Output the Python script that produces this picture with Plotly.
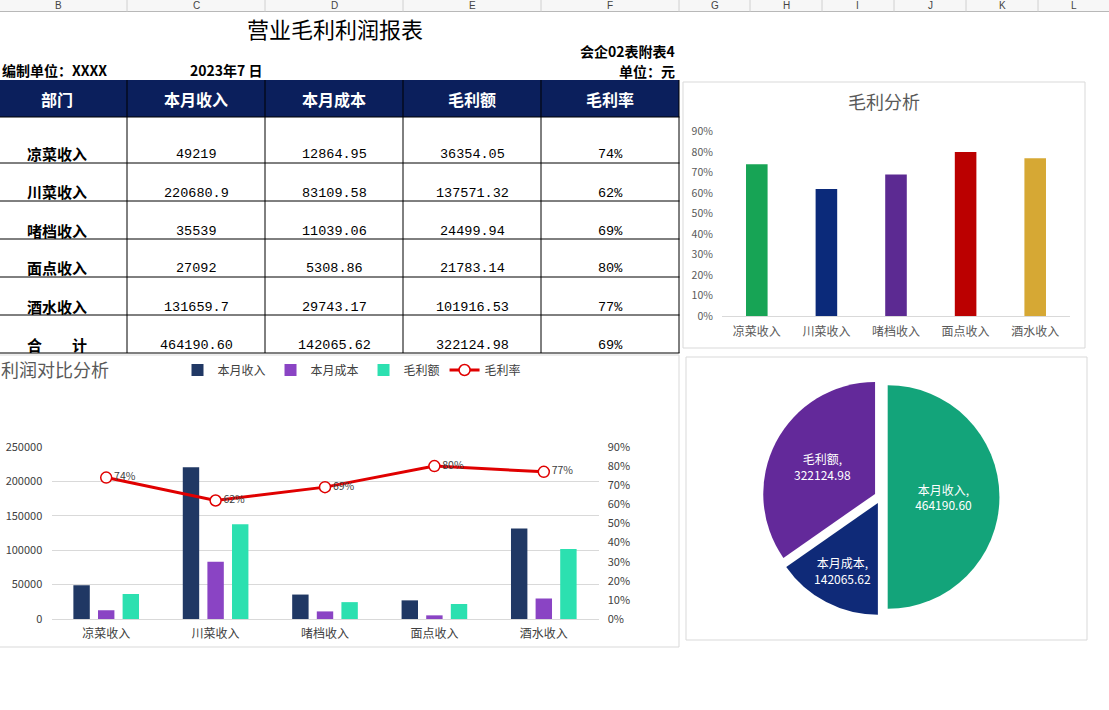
import plotly.graph_objects as go

W, H = 1109, 710

# ---------------- data ----------------
categories = ["凉菜收入", "川菜收入", "啫档收入", "面点收入", "酒水收入"]
revenue = [49219, 220680.9, 35539, 27092, 131659.7]
cost = [12864.95, 83109.58, 11039.06, 5308.86, 29743.17]
gross = [36354.05, 137571.32, 24499.94, 21783.14, 101916.53]
margin_rate = [0.74, 0.62, 0.69, 0.80, 0.77]
total_label = "合\u3000\u3000计"
totals = [464190.60, 142065.62, 322124.98]
total_rate = 0.69
header = ["部门", "本月收入", "本月成本", "毛利额", "毛利率"]
series_names = ["本月收入", "本月成本", "毛利额", "毛利率"]
pie_labels = ["本月收入", "本月成本", "毛利额"]
pie_values = [464190.60, 142065.62, 322124.98]
sheet_cols = ["B", "C", "D", "E", "F", "G", "H", "I", "J", "K", "L"]

# ---------------- helpers ----------------
def px(x):
    return x / W


def py(y):
    return 1 - y / H


CJK = "Noto Sans CJK SC"
NUM = "Liberation Mono"
GRAY = "#595959"

fig = go.Figure()

# ---------------- top-right bar chart: 毛利分析 ----------------
bar_colors = ["#17a455", "#0b2a7a", "#5c2a92", "#bb0000", "#d6a834"]
fig.add_trace(go.Bar(
    x=categories, y=margin_rate, xaxis="x", yaxis="y",
    marker=dict(color=bar_colors, line=dict(width=0)),
    width=0.31, showlegend=False, hoverinfo="x+y",
))

# ---------------- combo chart: 利润对比分析 ----------------
combo_colors = ["#203864", "#8a44c4", "#2ce0b0"]
bw = 0.15
centers = [-0.225, 0.0, 0.225]
for name, vals, col, c in zip(series_names[:3], [revenue, cost, gross], combo_colors, centers):
    fig.add_trace(go.Bar(
        x=categories, y=vals, name=name, xaxis="x2", yaxis="y2",
        marker=dict(color=col, line=dict(width=0)),
        width=bw, offset=c - bw / 2, legend="legend",
    ))

fig.add_trace(go.Scatter(
    x=categories, y=margin_rate, name=series_names[3], xaxis="x2", yaxis="y3",
    mode="lines+markers+text",
    line=dict(color="#e00000", width=3),
    marker=dict(symbol="circle", size=11, color="white", line=dict(color="#e00000", width=1.5)),
    text=[f"{r:.0%}" for r in margin_rate], textposition="middle right",
    textfont=dict(size=10.5, color="#404040", family=CJK),
    legend="legend",
))

# ---------------- pie ----------------
pie_colors = ["#13a47a", "#0f2a78", "#63299a"]
fig.add_trace(go.Pie(
    labels=pie_labels, values=pie_values,
    domain=dict(x=[px(762.5), px(999.5)], y=[py(615.5), py(378.5)]),
    sort=False, direction="clockwise", rotation=0,
    pull=[0.06, 0.06, 0.06],
    marker=dict(colors=pie_colors, line=dict(width=0)),
    texttemplate="%{label},<br>%{value:.2f}",
    textposition="inside", insidetextorientation="horizontal",
    textfont=dict(color="white", size=12, family=CJK),
    showlegend=False,
))

shapes = []
annotations = []

# ---------------- spreadsheet column header strip ----------------
col_bounds = [-11, 127, 265, 403, 541, 679, 750, 822, 894, 966, 1038, 1110]
shapes.append(dict(type="rect", xref="paper", yref="paper", x0=px(-2), x1=px(W + 2),
                   y0=py(11.5), y1=py(-2), fillcolor="#f7f7f7", line=dict(width=0), layer="below"))
shapes.append(dict(type="line", xref="paper", yref="paper", x0=0, x1=1, y0=py(11.5), y1=py(11.5),
                   line=dict(color="#b8b8b8", width=1)))
for b in col_bounds[1:-1]:
    shapes.append(dict(type="line", xref="paper", yref="paper", x0=px(b), x1=px(b),
                       y0=py(11.5), y1=py(0), line=dict(color="#d0d0d0", width=1)))
for i, letter in enumerate(sheet_cols):
    cx = (col_bounds[i] + col_bounds[i + 1]) / 2
    annotations.append(dict(text=letter, xref="paper", yref="paper", x=px(cx), y=py(5.8),
                            xanchor="center", yanchor="middle", showarrow=False,
                            font=dict(size=10, color="#444444", family="Liberation Sans")))

# ---------------- report title & header texts ----------------
annotations.append(dict(text="营业毛利利润报表", xref="paper", yref="paper", x=px(335), y=py(28),
                        xanchor="center", yanchor="middle", showarrow=False,
                        font=dict(size=22, color="black", family=CJK)))
annotations.append(dict(text="<b>会企02表附表4</b>", xref="paper", yref="paper", x=px(677), y=py(51),
                        xanchor="right", yanchor="middle", showarrow=False,
                        font=dict(size=14, color="black", family=CJK)))
annotations.append(dict(text="<b>单位：元</b>", xref="paper", yref="paper", x=px(677), y=py(71),
                        xanchor="right", yanchor="middle", showarrow=False,
                        font=dict(size=14, color="black", family=CJK)))
annotations.append(dict(text="<b>编制单位：XXXX</b>", xref="paper", yref="paper", x=px(0), y=py(70),
                        xanchor="left", yanchor="middle", showarrow=False,
                        font=dict(size=14, color="black", family=CJK)))
annotations.append(dict(text="<b>2023年7 日</b>", xref="paper", yref="paper", x=px(188), y=py(70),
                        xanchor="left", yanchor="middle", showarrow=False,
                        font=dict(size=14, color="black", family=CJK)))

# ---------------- table ----------------
tbl_cols = [-11, 127, 265, 403, 541, 679]
col_centers = [57, 196, 334, 472, 610]
hdr_top, hdr_bot = 80, 117
row_bottoms = [163, 201, 239, 277, 315, 353]

shapes.append(dict(type="rect", xref="paper", yref="paper", x0=px(-5), x1=px(679),
                   y0=py(hdr_bot), y1=py(hdr_top), fillcolor="#0b1f5c",
                   line=dict(width=0), layer="below"))
for yb in [hdr_bot] + row_bottoms:
    shapes.append(dict(type="line", xref="paper", yref="paper", x0=px(-5), x1=px(679.5),
                       y0=py(yb), y1=py(yb), line=dict(color="black", width=1)))
for xb in tbl_cols[1:]:
    shapes.append(dict(type="line", xref="paper", yref="paper", x0=px(xb), x1=px(xb),
                       y0=py(353), y1=py(hdr_top), line=dict(color="black", width=1)))

for h, cx in zip(header, col_centers):
    annotations.append(dict(text=f"<b>{h}</b>", xref="paper", yref="paper", x=px(cx),
                            y=py((hdr_top + hdr_bot) / 2), xanchor="center", yanchor="middle",
                            showarrow=False, font=dict(size=16, color="white", family=CJK)))

body_rows = []
for i, c in enumerate(categories):
    body_rows.append([c, str(revenue[i]), str(cost[i]), str(gross[i]), f"{margin_rate[i]:.0%}"])
body_rows.append([total_label] + [f"{v:.2f}" for v in totals] + [f"{total_rate:.0%}"])

for row, yb in zip(body_rows, row_bottoms):
    for j, (val, cx) in enumerate(zip(row, col_centers)):
        if j == 0:
            annotations.append(dict(text=f"<b>{val}</b>", xref="paper", yref="paper", x=px(cx),
                                    y=py(yb - 9), xanchor="center", yanchor="middle",
                                    showarrow=False, font=dict(size=15, color="black", family=CJK)))
        else:
            annotations.append(dict(text=val, xref="paper", yref="paper", x=px(cx),
                                    y=py(yb - 8), xanchor="center", yanchor="middle",
                                    showarrow=False, font=dict(size=13.5, color="black", family=NUM)))

# ---------------- chart frames ----------------
for (x0, y0, x1, y1) in [(683, 82, 1085, 348), (686, 357, 1087, 640), (-3, 355, 679, 647)]:
    shapes.append(dict(type="rect", xref="paper", yref="paper", x0=px(x0), x1=px(x1),
                       y0=py(y1), y1=py(y0), line=dict(color="#d9d9d9", width=1),
                       fillcolor="rgba(0,0,0,0)", layer="below"))

annotations.append(dict(text="毛利分析", xref="paper", yref="paper", x=px(884), y=py(101),
                        xanchor="center", yanchor="middle", showarrow=False,
                        font=dict(size=18, color=GRAY, family=CJK)))
annotations.append(dict(text="利润对比分析", xref="paper", yref="paper", x=px(-1), y=py(369),
                        xanchor="left", yanchor="middle", showarrow=False,
                        font=dict(size=18, color=GRAY, family=CJK)))

fig.update_layout(
    width=W, height=H, autosize=False,
    margin=dict(l=0, r=0, t=0, b=0, pad=0, autoexpand=False),
    paper_bgcolor="white", plot_bgcolor="white",
    font=dict(family=CJK, color=GRAY),
    barmode="overlay",
    shapes=shapes, annotations=annotations,
    xaxis=dict(domain=[px(722), px(1070)], anchor="y", type="category",
               showline=True, linecolor="#d9d9d9", linewidth=1, showgrid=False,
               ticks="outside", ticklen=5, tickcolor="rgba(0,0,0,0)",
               tickfont=dict(size=12, color=GRAY, family=CJK), fixedrange=True),
    yaxis=dict(domain=[py(316), py(131.5)], anchor="x", range=[0, 0.9], dtick=0.1,
               tickformat=".0%", showgrid=False, zeroline=False, showline=False,
               ticks="outside", ticklen=6, tickcolor="rgba(0,0,0,0)",
               tickfont=dict(size=10.5, color=GRAY, family=CJK), fixedrange=True),
    xaxis2=dict(domain=[px(51.5), px(598.5)], anchor="y2", type="category",
                showline=True, linecolor="#d9d9d9", linewidth=1, showgrid=False,
                ticks="outside", ticklen=4, tickcolor="rgba(0,0,0,0)",
                tickfont=dict(size=12, color="#404040", family=CJK), fixedrange=True),
    yaxis2=dict(domain=[py(619), py(447)], anchor="x2", range=[0, 250000], dtick=50000,
                tickformat="d", showgrid=True, gridcolor="#d9d9d9", gridwidth=1,
                zeroline=False, showline=False,
                ticks="outside", ticklen=6, tickcolor="rgba(0,0,0,0)",
                tickfont=dict(size=11, color="#404040", family=CJK), fixedrange=True),
    yaxis3=dict(overlaying="y2", side="right", anchor="x2", range=[0, 0.9], dtick=0.1,
                tickformat=".0%", showgrid=False, zeroline=False, showline=False,
                ticks="outside", ticklen=6, tickcolor="rgba(0,0,0,0)",
                tickfont=dict(size=11, color="#404040", family=CJK), fixedrange=True),
    legend=dict(orientation="h", x=px(352), xanchor="center", y=py(370), yanchor="middle",
                font=dict(size=12, color="#404040", family=CJK), bgcolor="rgba(0,0,0,0)",
                itemwidth=30, tracegroupgap=0),
    showlegend=True,
)

fig.write_html("out.html", config={"displayModeBar": False},
               post_script="document.body.style.margin='0';")
